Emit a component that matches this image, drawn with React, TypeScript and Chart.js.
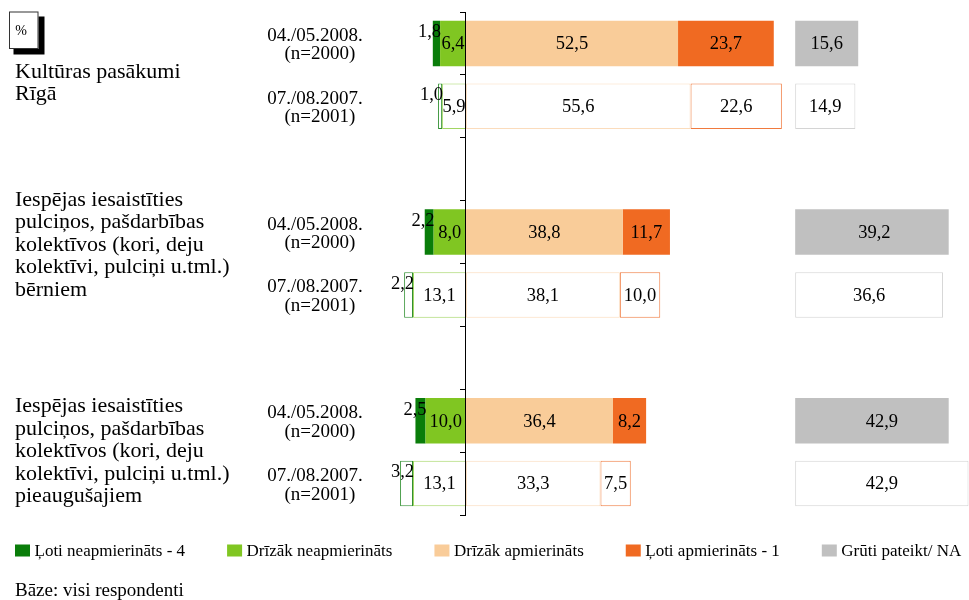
import React, { useEffect, useRef } from "react";
import { Chart, registerables } from "chart.js";

Chart.register(...registerables);

// ---------- data ----------
const rowLabels: string[][] = [
  ["04./05.2008.", "(n=2000)"],
  ["07./08.2007.", "(n=2001)"],
  [],
  ["04./05.2008.", "(n=2000)"],
  ["07./08.2007.", "(n=2001)"],
  [],
  ["04./05.2008.", "(n=2000)"],
  ["07./08.2007.", "(n=2001)"],
];

const groupLabels: string[][] = [
  ["Kultūras pasākumi", "Rīgā"],
  [
    "Iespējas iesaistīties",
    "pulciņos, pašdarbības",
    "kolektīvos (kori, deju",
    "kolektīvi, pulciņi u.tml.)",
    "bērniem",
  ],
  [
    "Iespējas iesaistīties",
    "pulciņos, pašdarbības",
    "kolektīvos (kori, deju",
    "kolektīvi, pulciņi u.tml.)",
    "pieaugušajiem",
  ],
];

const seriesNames = [
  "Ļoti neapmierināts - 4",
  "Drīzāk neapmierināts",
  "Drīzāk apmierināts",
  "Ļoti apmierināts - 1",
  "Grūti pateikt/ NA",
];

const veryDissatisfied = [1.8, 1.0, null, 2.2, 2.2, null, 2.5, 3.2];
const ratherDissatisfied = [6.4, 5.9, null, 8.0, 13.1, null, 10.0, 13.1];
const ratherSatisfied = [52.5, 55.6, null, 38.8, 38.1, null, 36.4, 33.3];
const verySatisfied = [23.7, 22.6, null, 11.7, 10.0, null, 8.2, 7.5];
const hardToSay = [15.6, 14.9, null, 39.2, 36.6, null, 42.9, 42.9];

const noteText = "Bāze: visi respondenti";
const unitText = "%";

// ---------- style / layout ----------
const FONT = '"Liberation Serif", "Times New Roman", serif';
const FILL = ["#0a7d0a", "#80c622", "#f9cc99", "#f06a22", "#c0c0c0"];
const OUTLINE = ["#2f8f2f", "#a2d562", "#fbdcbc", "#f07a3e", "#d4d4d4"];
const NA_START = 81.5; // where the "Grūti pateikt" column starts on the axis
const GROUP_SHIFT = [14, -13, 5];

const isFilled = (i: number) => ((rowLabels[i] && rowLabels[i][0]) || "").includes("2008");
const fmt = (v: number) => v.toFixed(1).replace(".", ",");

function stackSet(name: string, values: (number | null)[], sign: number, fill: string, outline: string) {
  return {
    label: name,
    data: values.map((v) => (v == null ? null : sign * v)),
    labelValues: values,
    stack: "main",
    backgroundColor: (c: any) => (isFilled(c.dataIndex) ? fill : "#ffffff"),
    borderColor: (c: any) => (isFilled(c.dataIndex) ? fill : outline),
    borderWidth: (c: any) => (isFilled(c.dataIndex) ? 0 : 1),
    borderSkipped: false,
  };
}

const naData = (filled: boolean) =>
  hardToSay.map((v, i) => (v == null || isFilled(i) !== filled ? null : [NA_START, NA_START + v]));

const valueLabelPlugin = {
  id: "valueLabels",
  afterDatasetsDraw(chart: any) {
    const ctx = chart.ctx as CanvasRenderingContext2D;
    ctx.save();
    ctx.font = `18.5px ${FONT}`;
    ctx.fillStyle = "#000";
    ctx.textBaseline = "middle";
    chart.data.datasets.forEach((ds: any, di: number) => {
      const meta = chart.getDatasetMeta(di);
      meta.data.forEach((el: any, i: number) => {
        if (ds.data[i] == null) return;
        const v = ds.labelValues[i];
        if (v == null) return;
        const { x, y, base } = el.getProps(["x", "y", "base"], true);
        const w = Math.abs(x - base);
        if (w < 20) {
          ctx.textAlign = "right";
          ctx.fillText(fmt(v), Math.max(x, base) + 1, y - 11);
        } else {
          ctx.textAlign = "center";
          ctx.fillText(fmt(v), (x + base) / 2, y + 1);
        }
      });
    });
    ctx.restore();
  },
};

const textPlugin = {
  id: "texts",
  afterDraw(chart: any) {
    const ctx = chart.ctx as CanvasRenderingContext2D;
    const xs = chart.scales.x;
    const ys = chart.scales.y;
    const zero = xs.getPixelForValue(0);
    ctx.save();
    ctx.fillStyle = "#000";

    // row (survey wave) labels
    ctx.font = `19px ${FONT}`;
    ctx.textAlign = "center";
    ctx.textBaseline = "middle";
    rowLabels.forEach((lines, i) => {
      if (!lines.length) return;
      const cy = ys.getPixelForValue(i);
      ctx.fillText(lines[0], zero - 151, cy - 7.5);
      ctx.fillText(lines[1], zero - 146, cy + 11);
    });

    // group labels
    ctx.font = `22px ${FONT}`;
    ctx.textAlign = "left";
    ctx.textBaseline = "alphabetic";
    const lh = 22.5;
    groupLabels.forEach((lines, g) => {
      const c = (ys.getPixelForValue(g * 3) + ys.getPixelForValue(g * 3 + 1)) / 2;
      const first = c - ((lines.length - 1) / 2) * lh + GROUP_SHIFT[g];
      lines.forEach((t, k) => ctx.fillText(t, 15, first + k * lh));
    });

    // legend
    const order = [0, 1, 2, 3, 4];
    ctx.font = `17px ${FONT}`;
    let lx = 15;
    order.forEach((s) => {
      ctx.fillStyle = FILL[s];
      ctx.fillRect(lx, 544.5, 15, 12);
      ctx.fillStyle = "#000";
      ctx.fillText(seriesNames[s], lx + 19.5, 556);
      lx += 19.5 + ctx.measureText(seriesNames[s]).width + 42;
    });

    // note
    ctx.font = `19px ${FONT}`;
    ctx.fillText(noteText, 15, 595.5);

    // unit box
    ctx.fillStyle = "#000";
    ctx.fillRect(13.5, 16.5, 31, 38);
    ctx.fillStyle = "#fff";
    ctx.fillRect(9, 11.5, 29.5, 37.5);
    ctx.strokeStyle = "#333";
    ctx.lineWidth = 1;
    ctx.strokeRect(9.5, 12, 28.5, 36.5);
    ctx.fillStyle = "#000";
    ctx.font = `14px ${FONT}`;
    ctx.textAlign = "center";
    ctx.textBaseline = "middle";
    ctx.fillText(unitText, 21, 31.5);
    ctx.restore();
  },
};

export default function App() {
  const ref = useRef<HTMLCanvasElement | null>(null);
  useEffect(() => {
    document.body.style.margin = "0";
    const canvas = ref.current;
    if (!canvas) return;
    const chart = new Chart(canvas, {
      type: "bar",
      data: {
        labels: rowLabels.map((l) => l.join(" ")),
        datasets: [
          stackSet(seriesNames[1], ratherDissatisfied, -1, FILL[1], OUTLINE[1]),
          stackSet(seriesNames[0], veryDissatisfied, -1, FILL[0], OUTLINE[0]),
          stackSet(seriesNames[2], ratherSatisfied, 1, FILL[2], OUTLINE[2]),
          stackSet(seriesNames[3], verySatisfied, 1, FILL[3], OUTLINE[3]),
          {
            label: seriesNames[4],
            data: naData(true),
            labelValues: hardToSay,
            stack: "na-filled",
            grouped: false,
            clip: 0,
            backgroundColor: FILL[4],
            borderWidth: 0,
          },
          {
            label: seriesNames[4],
            data: naData(false),
            labelValues: hardToSay,
            stack: "na-outline",
            grouped: false,
            clip: false,
            backgroundColor: "#ffffff",
            borderColor: OUTLINE[4],
            borderWidth: 1,
            borderSkipped: false,
          },
        ] as any,
      },
      options: {
        indexAxis: "y",
        responsive: false,
        animation: false,
        events: [],
        layout: { padding: { left: 5.4, right: 20.3, top: 12, bottom: 85 } },
        datasets: { bar: { categoryPercentage: 1, barPercentage: 0.725 } },
        scales: {
          x: {
            stacked: true,
            min: -114,
            max: 119.5,
            display: false,
          },
          y: {
            stacked: true,
            position: { x: 0 } as any,
            grid: { drawOnChartArea: false, drawTicks: true, tickLength: 5, color: "#000", offset: true },
            border: { display: true, color: "#000", width: 1, z: 1 } as any,
            ticks: { display: false },
          },
        },
        plugins: {
          legend: { display: false },
          tooltip: { enabled: false },
          title: { display: false },
        },
      },
      plugins: [valueLabelPlugin, textPlugin],
    } as any);
    return () => chart.destroy();
  }, []);
  return (
    <div style={{ width: 969, height: 600, position: "relative", background: "#fff" }}>
      <canvas ref={ref} width={969} height={600} style={{ display: "block" }} />
    </div>
  );
}
